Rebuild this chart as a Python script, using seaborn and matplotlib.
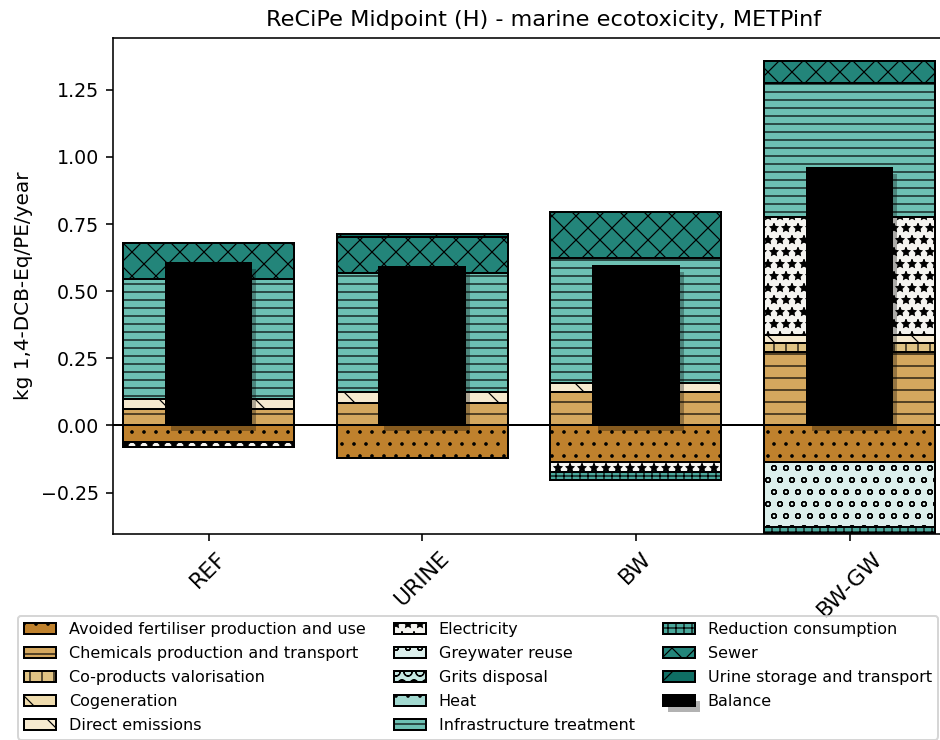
import matplotlib
matplotlib.use("Agg")
import matplotlib.pyplot as plt
import matplotlib.patheffects as pe
import numpy as np
import seaborn as sns

# scenarios on the x axis
scenarios = ["REF", "URINE", "BW", "BW-GW"]

# contributions per process (kg 1,4-DCB-Eq/PE/year)
avoided_fertiliser = [-0.062, -0.120, -0.135, -0.135]
chemicals = [0.061, 0.085, 0.125, 0.275]
co_products = [0.0, 0.0, 0.0, 0.033]
cogeneration = [0.0, 0.0, 0.0, 0.0]
direct_emissions = [0.037, 0.039, 0.034, 0.029]
electricity = [-0.019, 0.0, -0.037, 0.440]
greywater_reuse = [0.0, 0.0, 0.0, -0.242]
grits_disposal = [0.0, 0.0, 0.0, 0.0]
heat = [0.0, 0.0, 0.0, 0.0]
infrastructure = [0.446, 0.443, 0.464, 0.497]
reduction_consumption = [0.0, 0.0, -0.031, -0.024]
sewer = [0.137, 0.134, 0.173, 0.084]
urine_storage = [0.0, 0.012, 0.0, 0.0]
balance = [0.604, 0.589, 0.595, 0.958]

labels = ["Avoided fertiliser production and use",
          "Chemicals production and transport",
          "Co-products valorisation",
          "Cogeneration",
          "Direct emissions",
          "Electricity",
          "Greywater reuse",
          "Grits disposal",
          "Heat",
          "Infrastructure treatment",
          "Reduction consumption",
          "Sewer",
          "Urine storage and transport"]
series = [avoided_fertiliser, chemicals, co_products, cogeneration,
          direct_emissions, electricity, greywater_reuse, grits_disposal,
          heat, infrastructure, reduction_consumption, sewer, urine_storage]
colors = ["#bf812d", "#d4a75e", "#e0c384", "#efdcae", "#f6ead0",
          "#f5f4f0", "#dcefec", "#c4e7e1", "#a2d9d0", "#6dc0b3",
          "#4aa89b", "#23857a", "#0f6e64"]
hatches = ["..", "--", "||", "x", "\\", "**", "oo", "OO", "..", "---",
           "+++", "xx", "/"]

sns.set_theme(style="ticks", rc={
    "axes.edgecolor": "black", "axes.linewidth": 0.8,
    "xtick.color": "black", "ytick.color": "black",
    "xtick.major.width": 0.8, "ytick.major.width": 0.8,
    "xtick.major.size": 3.5, "ytick.major.size": 3.5,
    "text.color": "black", "axes.labelcolor": "black",
    "font.size": 9.5, "axes.titlesize": 11.2, "axes.labelsize": 10,
    "xtick.labelsize": 11, "ytick.labelsize": 9.5, "legend.fontsize": 8,
    "hatch.linewidth": 0.6,
})
plt.rcParams["font.family"] = ["DejaVu Sans"]

fig = plt.figure(figsize=(940 / 144, 740 / 144), dpi=144)
ax = fig.add_axes([0.1202, 0.2784, 0.917, 0.6699])

x = np.arange(len(scenarios))
pos_bottom = np.zeros(len(scenarios))
neg_bottom = np.zeros(len(scenarios))
for vals, lab, col, hat in zip(series, labels, colors, hatches):
    vals = np.array(vals)
    bottom = np.where(vals >= 0, pos_bottom, neg_bottom)
    ax.bar(x, vals, width=0.8, bottom=bottom, color=col, hatch=hat,
           edgecolor="black", linewidth=1.0, label=lab, zorder=2)
    pos_bottom += np.clip(vals, 0, None)
    neg_bottom += np.clip(vals, None, 0)

ax.bar(x, balance, width=0.4, color="black", edgecolor="black",
       linewidth=1.0, label="Balance", zorder=3,
       path_effects=[pe.SimplePatchShadow(offset=(2.5, -3)), pe.Normal()])

ax.axhline(0, color="black", linewidth=1.0, zorder=1)

ax.set_xticks(x)
ax.set_xticklabels(scenarios, rotation=45)
ax.set_xlim(-0.447, 3.587)
ax.set_ylim(-0.404, 1.442)
ax.set_yticks([-0.25, 0.0, 0.25, 0.5, 0.75, 1.0, 1.25])
ax.set_ylabel("kg 1,4-DCB-Eq/PE/year")
ax.set_title("ReCiPe Midpoint (H) - marine ecotoxicity, METPinf")

fig.legend(loc="upper left", bbox_to_anchor=(18 / 940, 1 - 616 / 740),
           bbox_transform=fig.transFigure, borderaxespad=0, ncol=3,
           frameon=True, labelspacing=0.56, columnspacing=1.75)

fig.savefig("out.png", dpi=144)
